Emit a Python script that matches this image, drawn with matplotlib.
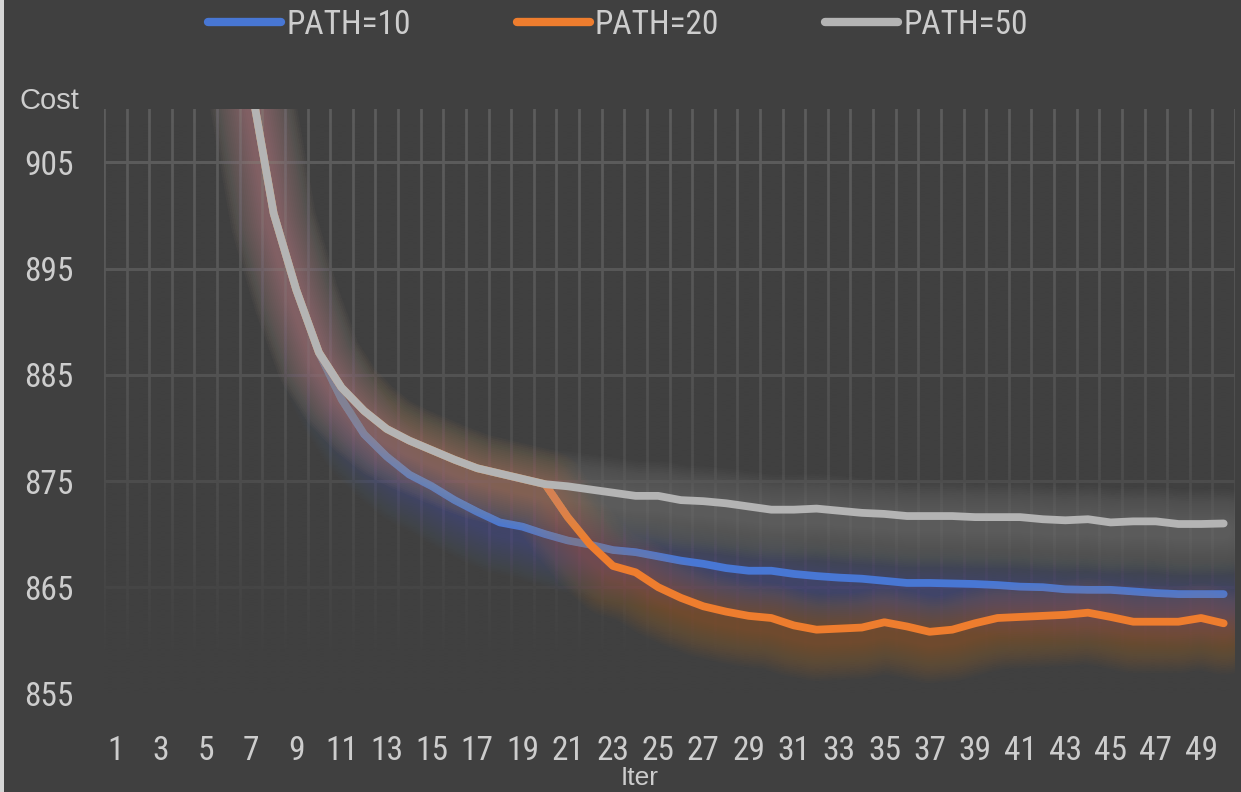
import numpy as np
import matplotlib
matplotlib.use("Agg")
import matplotlib.pyplot as plt
import matplotlib.patheffects as pe
from matplotlib import font_manager as fm
from matplotlib.lines import Line2D
from matplotlib.patches import Rectangle
from matplotlib.font_manager import FontProperties

# ---- data -------------------------------------------------------------
iters = list(range(1, 51))
x_tick_labels = [str(i) for i in range(1, 50, 2)]
y_ticks = [855, 865, 875, 885, 895, 905]

# iterations 1-6 lie above the visible range
cost_path10 = [None, None, None, None, None, None,
               912.3, 900.2, 893.0, 887.1, 882.7, 879.4, 877.3, 875.6, 874.5, 873.2,
               872.1, 871.1, 870.7, 870.0, 869.4, 869.0, 868.5, 868.3, 867.9, 867.5,
               867.2, 866.8, 866.55, 866.55, 866.25, 866.05, 865.9, 865.8, 865.6, 865.4,
               865.4, 865.35, 865.3, 865.2, 865.05, 865.0, 864.8, 864.75, 864.75, 864.6,
               864.45, 864.35, 864.35, 864.35]
cost_path20 = [None, None, None, None, None, None,
               912.3, 900.2, 893.0, 887.1, 883.8, 881.6, 879.9, 878.8, 877.9, 877.0,
               876.2, 875.7, 875.2, 874.7, 871.6, 869.0, 867.0, 866.4, 865.0, 864.0,
               863.2, 862.7, 862.3, 862.1, 861.4, 861.0, 861.1, 861.2, 861.7, 861.3,
               860.8, 861.0, 861.6, 862.1, 862.2, 862.3, 862.4, 862.6, 862.2, 861.75,
               861.75, 861.75, 862.1, 861.6]
cost_path50 = [None, None, None, None, None, None,
               912.3, 900.2, 893.0, 887.1, 883.8, 881.6, 879.9, 878.8, 877.9, 877.0,
               876.2, 875.7, 875.2, 874.7, 874.5, 874.2, 873.9, 873.6, 873.6, 873.2,
               873.1, 872.9, 872.6, 872.3, 872.3, 872.4, 872.2, 872.0, 871.9, 871.7,
               871.7, 871.7, 871.6, 871.6, 871.6, 871.4, 871.3, 871.4, 871.1, 871.2,
               871.2, 870.95, 870.95, 871.0]
series_labels = ["PATH=10", "PATH=20", "PATH=50"]
series_colors = ["#4877d4", "#ee7d2e", "#b4b4b4"]

# ---- style ------------------------------------------------------------
BG = "#404040"
GRID = "#5c5c5c"
TEXT = "#cdcdcd"

available = {f.name for f in fm.fontManager.ttflist}
narrow_family = "DejaVu Sans"
for cand in ["Liberation Sans Narrow", "Roboto Condensed", "Open Sans Condensed",
             "Noto Sans Condensed"]:
    if cand in available:
        narrow_family = cand
        break
narrow = FontProperties(family=narrow_family, size=24)
plain_family = "Liberation Sans" if "Liberation Sans" in available else "DejaVu Sans"

fig = plt.figure(figsize=(12.41, 7.92), dpi=100, facecolor=BG)
ax = fig.add_axes([104 / 1241, 1 - 693.4 / 792, (1235 - 104) / 1241, (693.4 - 109.3) / 792])
ax.set_facecolor(BG)
for s in ax.spines.values():
    s.set_visible(False)

# grid: horizontal at labelled values, vertical between categories
ax.set_yticks(y_ticks)
ax.set_xticks(list(range(1, 50, 2)))
ax.set_xticklabels(x_tick_labels)
ax.set_xticks(np.arange(0.5, 51.0, 1.0), minor=True)
ax.set_axisbelow(True)
ax.grid(which="major", axis="y", color=GRID, linewidth=2.2)
ax.grid(which="minor", axis="x", color=GRID, linewidth=2.0)
ax.tick_params(which="both", length=0)
ax.tick_params(axis="y", pad=22, labelcolor=TEXT)
ax.tick_params(axis="x", pad=30, labelcolor=TEXT)
for lab in ax.get_xticklabels() + ax.get_yticklabels():
    lab.set_fontproperties(narrow)

# fade the grid toward the bottom of the plot area
bg_rgb = np.array(matplotlib.colors.to_rgb(BG))
yy = np.linspace(910, 855, 300)
fade = np.clip((910 - yy) / 52.0, 0, 1) ** 1.5
overlay = np.zeros((300, 1, 4))
overlay[..., :3] = bg_rgb
overlay[..., 3] = fade[:, None]
ax.imshow(overlay, extent=(0.5, 50.5, 855, 910), aspect="auto", origin="upper",
          interpolation="bilinear", zorder=1)


def glow(color):
    # soft halo: many thin translucent strokes of growing width
    effects = []
    for w in np.linspace(62, 10, 20):
        effects.append(pe.Stroke(linewidth=w, foreground=color, alpha=0.019, offset=(0, -6)))
    effects.append(pe.Normal())
    return effects


series = [cost_path10, cost_path20, cost_path50]
for z, (vals, col, lab) in enumerate(zip(series, series_colors, series_labels)):
    y = np.array([np.nan if v is None else v for v in vals], dtype=float)
    ax.plot(iters, y, color=col, linewidth=5.6, solid_capstyle="round",
            solid_joinstyle="round", zorder=3 + z, label=lab, path_effects=glow(col))

ax.set_xlim(0.5, 50.5)
ax.set_ylim(855, 910)

# legend with plain proxies so the halo stays on the plot lines only
handles = [Line2D([], [], color=c, linewidth=6, solid_capstyle="round") for c in series_colors]
fig.legend(handles, series_labels, loc="center", bbox_to_anchor=(0.498, 0.969), ncol=3,
           frameon=False, prop=narrow, labelcolor=TEXT, handlelength=2.2,
           handletextpad=0.15, columnspacing=3.17)

fig.text(20 / 1241, 1 - 101 / 792, "Cost", ha="left", va="center", color=TEXT,
         fontsize=21, family=plain_family)
fig.text(640 / 1241, 1 - 778 / 792, "Iter", ha="center", va="center", color=TEXT,
         fontsize=19, family=plain_family)

# light edge on the left of the canvas
fig.patches.append(Rectangle((0, 0), 4 / 1241, 1, transform=fig.transFigure,
                             facecolor="#d6d6d6", edgecolor="none"))

fig.savefig("out.png", dpi=100, facecolor=BG)
